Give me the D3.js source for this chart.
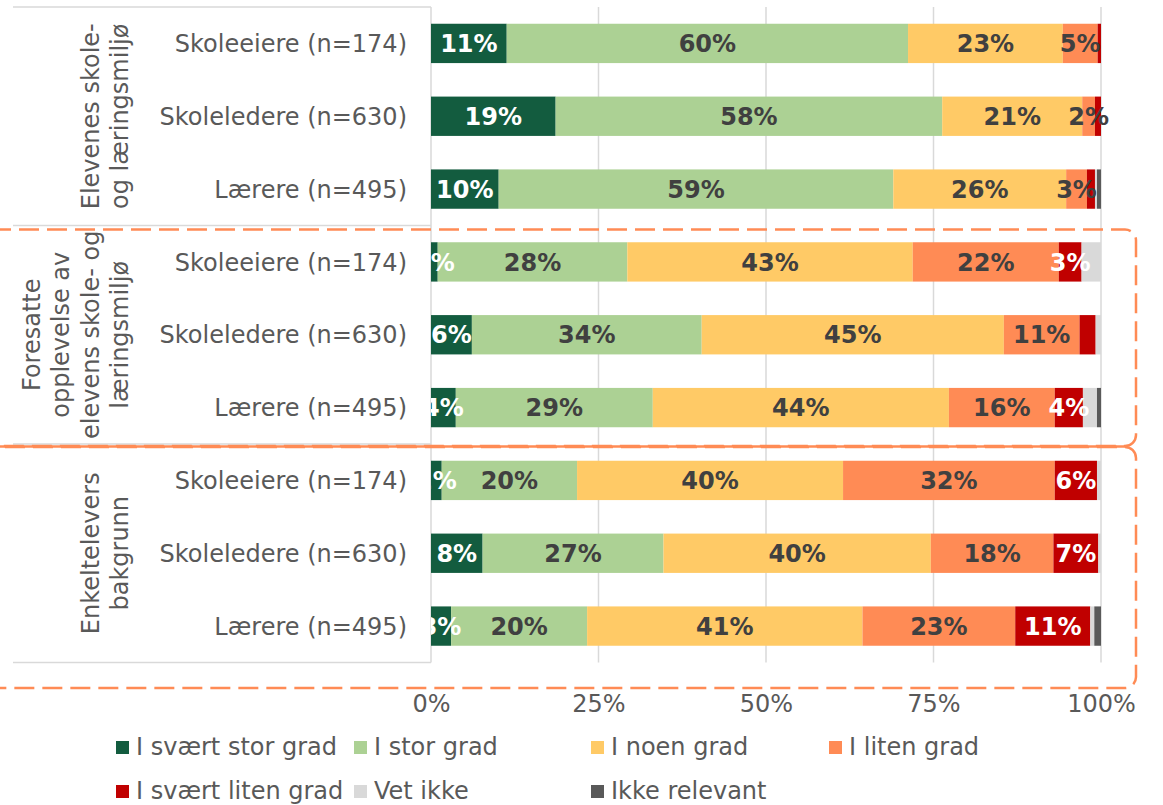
<!DOCTYPE html>
<html>
<head>
<meta charset="utf-8">
<script src="https://cdn.jsdelivr.net/npm/d3@7"></script>
<style>
  body { margin: 0; background: #fff; }
  svg { display: block; font-family: "DejaVu Sans", Verdana, sans-serif; }
</style>
</head>
<body>
<div id="chart"></div>
<script>
// groups of the two-level category axis (each line of the rotated label)
const groups = [
    ["Elevenes skole-", "og læringsmiljø"],
    ["Foresatte", "opplevelse av", "elevens skole- og", "læringsmiljø"],
    ["Enkeltelevers", "bakgrunn"]
];
const respondents = ["Skoleeiere (n=174)", "Skoleledere (n=630)", "Lærere (n=495)"];

const seriesNames = ["I svært stor grad", "I stor grad", "I noen grad", "I liten grad",
    "I svært liten grad", "Vet ikke", "Ikke relevant"];
const seriesColors = ["#135c3f", "#acd194", "#ffca66", "#ff8b55", "#c00000", "#d9d9d9", "#595959"];

// percent per row, top to bottom (3 groups x 3 respondents)
const svaertStorGrad  = [11.3, 18.6, 10.1, 1.0, 6.1, 3.7, 1.6, 7.7, 3.0];
const storGrad        = [59.9, 57.7, 58.9, 28.3, 34.3, 29.4, 20.2, 27.0, 20.3];
const noenGrad        = [23.1, 20.9, 25.8, 42.6, 45.1, 44.2, 39.7, 39.9, 41.1];
const litenGrad       = [5.2, 1.9, 3.1, 21.8, 11.3, 15.8, 31.6, 18.3, 22.8];
const svaertLitenGrad = [0.5, 0.9, 1.2, 3.4, 2.4, 4.2, 6.3, 6.7, 11.2];
const vetIkke         = [0, 0, 0.3, 2.9, 0.8, 2.1, 0.6, 0.4, 0.6];
const ikkeRelevant    = [0, 0, 0.6, 0, 0, 0.6, 0, 0, 1.0];

const xTicks = [0, 25, 50, 75, 100];

// data labels that are not shown in the original ([row, series])
const hiddenLabels = [[2, 4], [4, 4]];

const width = 1163, height = 805;
const margin = { top: 7, left: 431, right: 62, bottom: 143 };
const textGray = "#595959";

const allSeries = [svaertStorGrad, storGrad, noenGrad, litenGrad, svaertLitenGrad, vetIkke, ikkeRelevant];
const rows = [];
groups.forEach((g, gi) => respondents.forEach((r, ri) => rows.push({ id: gi * 3 + ri, group: gi, label: r })));
const table = rows.map(r => {
    let obj = { id: r.id };
    seriesNames.forEach((s, si) => obj[s] = allSeries[si][r.id]);
    return obj;
});

const svg = d3.select("#chart").append("svg")
    .attr("width", width)
    .attr("height", height);

const x = d3.scaleLinear().domain([0, 100]).range([margin.left, width - margin.right]);
const y = d3.scaleBand()
    .domain(rows.map(d => d.id))
    .range([margin.top, height - margin.bottom + 0.5])
    .paddingInner(0.46)
    .paddingOuter(0.23);

const plotTop = margin.top, plotBottom = height - margin.bottom + 0.5;

// gridlines
svg.append("g")
    .selectAll("line")
    .data(xTicks.slice(1))
    .join("line")
    .attr("x1", d => x(d)).attr("x2", d => x(d))
    .attr("y1", plotTop).attr("y2", plotBottom)
    .attr("stroke", "#d9d9d9")
    .attr("stroke-width", 1.5);

// category table lines on the left
const groupEdges = [0, 3, 6, 9].map(i => plotTop + i * y.step());
svg.append("g")
    .selectAll("line")
    .data(groupEdges)
    .join("line")
    .attr("x1", 13).attr("x2", x(0))
    .attr("y1", d => d).attr("y2", d => d)
    .attr("stroke", "#d9d9d9")
    .attr("stroke-width", 1.5);
svg.append("line")
    .attr("x1", x(0)).attr("x2", x(0))
    .attr("y1", plotTop).attr("y2", plotBottom)
    .attr("stroke", "#d9d9d9")
    .attr("stroke-width", 1.5);

// stacked bars
const stack = d3.stack().keys(seriesNames);
const stacked = stack(table);

const layers = svg.append("g")
    .selectAll("g")
    .data(stacked)
    .join("g")
    .attr("fill", (d, i) => seriesColors[i]);

layers.selectAll("rect")
    .data(d => d)
    .join("rect")
    .attr("x", d => x(d[0]))
    .attr("y", d => y(d.data.id))
    .attr("width", d => x(d[1]) - x(d[0]))
    .attr("height", y.bandwidth());

// data labels (clipped at the category axis like in the original)
svg.append("clipPath").attr("id", "plotClip")
    .append("rect")
    .attr("x", x(0)).attr("y", 0)
    .attr("width", width - x(0)).attr("height", height);

const labelData = [];
stacked.forEach((layer, si) => {
    layer.forEach(d => {
        const v = d[1] - d[0];
        const hidden = hiddenLabels.some(h => h[0] === d.data.id && h[1] === si);
        if (si < 5 && v >= 1 && !hidden) {
            labelData.push({ si, v, cx: (x(d[0]) + x(d[1])) / 2, cy: y(d.data.id) + y.bandwidth() / 2 });
        }
    });
});

svg.append("g")
    .attr("clip-path", "url(#plotClip)")
    .selectAll("text")
    .data(labelData)
    .join("text")
    .attr("x", d => d.cx)
    .attr("y", d => d.cy)
    .attr("dy", "0.36em")
    .attr("text-anchor", "middle")
    .attr("fill", d => (d.si === 0 || d.si === 4) ? "#ffffff" : "#404040")
    .style("font-size", "24px")
    .style("font-weight", "bold")
    .text(d => Math.round(d.v) + "%");

// respondent labels
svg.append("g")
    .selectAll("text")
    .data(rows)
    .join("text")
    .attr("x", 407)
    .attr("y", d => y(d.id) + y.bandwidth() / 2)
    .attr("dy", "0.36em")
    .attr("text-anchor", "end")
    .attr("fill", textGray)
    .style("font-size", "24px")
    .text(d => d.label);

// rotated group labels
groups.forEach((lines, gi) => {
    const cy = (groupEdges[gi] + groupEdges[gi + 1]) / 2;
    lines.forEach((line, li) => {
        const bx = 128 - (lines.length - 1 - li) * 29.5;
        svg.append("text")
            .attr("transform", `translate(${bx},${cy}) rotate(-90)`)
            .attr("text-anchor", "middle")
            .attr("fill", textGray)
            .style("font-size", "24px")
            .text(line);
    });
});

// x axis tick labels
const xAxis = svg.append("g")
    .attr("transform", `translate(0,${plotBottom})`)
    .call(d3.axisBottom(x).tickValues(xTicks).tickFormat(d => d + "%").tickSize(0).tickPadding(32));
xAxis.select(".domain").remove();
xAxis.selectAll("text")
    .attr("fill", textGray)
    .style("font-size", "24px")
    .style("font-family", "'DejaVu Sans', Verdana, sans-serif");

// orange dashed frames around the last two groups
const frameColor = "#ff8b55";
svg.append("rect")
    .attr("x", -20).attr("y", 229.5)
    .attr("width", 1156).attr("height", 216.5)
    .attr("rx", 11)
    .attr("fill", "none")
    .attr("stroke", frameColor)
    .attr("stroke-width", 2.5)
    .attr("stroke-dasharray", "20,8");
svg.append("rect")
    .attr("x", -20).attr("y", 447)
    .attr("width", 1156).attr("height", 241)
    .attr("rx", 11)
    .attr("fill", "none")
    .attr("stroke", frameColor)
    .attr("stroke-width", 2.5)
    .attr("stroke-dasharray", "20,8")
    .attr("stroke-dashoffset", 14);
// where the two frames meet the dashes overlap into a solid line
svg.append("line")
    .attr("x1", -20).attr("x2", 1125)
    .attr("y1", 446.5).attr("y2", 446.5)
    .attr("stroke", frameColor)
    .attr("stroke-width", 2.5);

// legend
const legendCols = [116, 354, 591, 829];
const legendRows = [755, 799];
const legendPos = [[0, 0], [1, 0], [2, 0], [3, 0], [0, 1], [1, 1], [2, 1]];
const legend = svg.append("g")
    .selectAll("g")
    .data(seriesNames)
    .join("g")
    .attr("transform", (d, i) => `translate(${legendCols[legendPos[i][0]]},${legendRows[legendPos[i][1]]})`);
legend.append("rect")
    .attr("x", 0).attr("y", -14)
    .attr("width", 13).attr("height", 13)
    .attr("fill", (d, i) => seriesColors[i]);
legend.append("text")
    .attr("x", 20)
    .attr("y", 0)
    .attr("fill", textGray)
    .style("font-size", "24px")
    .text(d => d);
</script>
</body>
</html>
